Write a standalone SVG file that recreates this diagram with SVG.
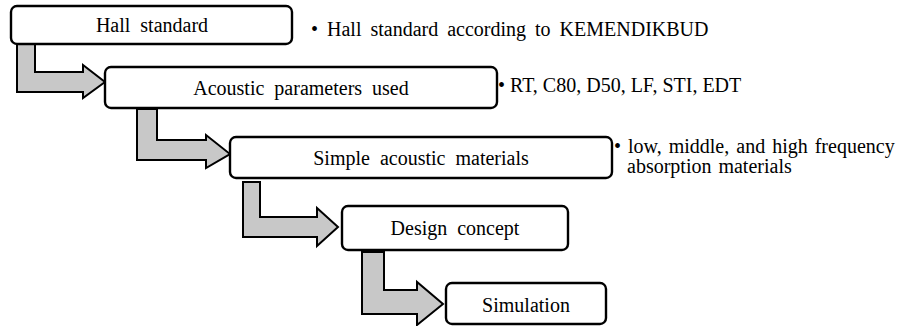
<svg xmlns="http://www.w3.org/2000/svg" width="903" height="326" viewBox="0 0 903 326">
  <style>
    .box { fill: #ffffff; stroke: #000000; stroke-width: 2.4; }
    .flow { fill: #c8c8c8; stroke: #000000; stroke-width: 2; stroke-linejoin: miter; }
    text { font-family: 'Liberation Serif', 'Times New Roman', Times, serif; font-size: 20px; fill: #000000; }
    .mid { text-anchor: middle; word-spacing: 5px; }
  </style>
  <rect width="903" height="326" fill="#ffffff"/>

  <!-- bent block arrows between consecutive steps -->
  <g id="connectors">
    <polygon class="flow" points="17,44 35,44 35,72 83,72 83,65 105,82 83,98 83,92 17,92"/>
    <polygon class="flow" points="137,109 157,109 157,140 206,140 206,135 230,154 206,168 206,160 137,160"/>
    <polygon class="flow" points="243,182 260,182 260,217 317,217 317,208 338,227 317,246 317,237 243,237"/>
    <polygon class="flow" points="362,252 384,252 384,290 417,290 417,282 443,304 417,325 417,314 362,314"/>
  </g>

  <g id="hall-standard">
    <rect class="box" x="11" y="6" width="281" height="38" rx="6"/>
    <text class="mid" x="152" y="32">Hall standard</text>
  </g>
  <g id="hall-standard-note">
    <text x="311" y="36" word-spacing="4">• Hall standard according to KEMENDIKBUD</text>
  </g>

  <g id="acoustic-parameters">
    <rect class="box" x="105" y="67" width="392" height="41" rx="6"/>
    <text class="mid" x="301" y="95" word-spacing="6">Acoustic parameters used</text>
  </g>
  <g id="acoustic-parameters-note">
    <text x="498" y="92">• RT, C80, D50, LF, STI, EDT</text>
  </g>

  <g id="acoustic-materials">
    <rect class="box" x="230" y="137" width="382" height="41" rx="6"/>
    <text class="mid" x="421" y="165" word-spacing="4">Simple acoustic materials</text>
  </g>
  <g id="acoustic-materials-note">
    <text x="614" y="153" word-spacing="2">• low, middle, and high frequency</text>
    <text x="627" y="173" word-spacing="2">absorption materials</text>
  </g>

  <g id="design-concept">
    <rect class="box" x="342" y="206" width="226" height="44" rx="6"/>
    <text class="mid" x="455" y="235">Design concept</text>
  </g>

  <g id="simulation">
    <rect class="box" x="446" y="283" width="160" height="41" rx="6"/>
    <text class="mid" x="526" y="312">Simulation</text>
  </g>
</svg>
